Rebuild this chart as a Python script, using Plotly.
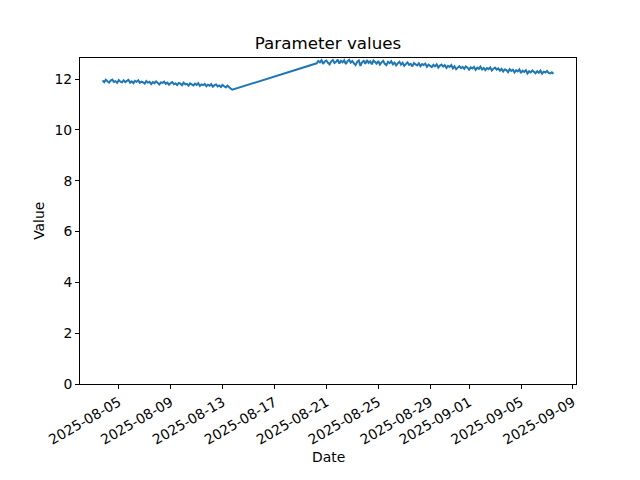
import pandas as pd
import plotly.graph_objects as go

# Segment 1: 3-hourly readings starting 2025-08-03 18:00
seg1_start = "2025-08-03 18:00"
seg1_values = [11.95, 11.88, 11.97, 11.91, 11.86, 11.94, 11.98, 11.89,
               11.92, 11.85, 11.96, 11.90, 11.87, 11.95, 11.88, 11.93,
               11.97, 11.86, 11.91, 11.84, 11.93, 11.89, 11.95, 11.85,
               11.90, 11.87, 11.82, 11.92, 11.86, 11.89, 11.80, 11.88,
               11.84, 11.91, 11.83, 11.79, 11.87, 11.85, 11.90, 11.81,
               11.86, 11.78, 11.84, 11.88, 11.80, 11.83, 11.77, 11.85,
               11.82, 11.76, 11.86, 11.79, 11.81, 11.74, 11.83, 11.78,
               11.75, 11.82, 11.77, 11.84, 11.73, 11.79, 11.76, 11.81,
               11.72, 11.78, 11.74, 11.80, 11.70, 11.76, 11.79, 11.71,
               11.75, 11.69, 11.77, 11.72, 11.67, 11.74, 11.70, 11.63,
               11.58]

# Segment 2: 3-hourly readings starting 2025-08-20 06:00
seg2_start = "2025-08-20 06:00"
seg2_values = [12.62, 12.71, 12.66, 12.74, 12.60, 12.69, 12.73, 12.64,
               12.58, 12.70, 12.75, 12.63, 12.68, 12.77, 12.61, 12.72,
               12.66, 12.74, 12.59, 12.70, 12.76, 12.65, 12.71, 12.62,
               12.55, 12.68, 12.73, 12.52, 12.66, 12.72, 12.60, 12.75,
               12.64, 12.70, 12.58, 12.73, 12.67, 12.61, 12.71, 12.57,
               12.66, 12.72, 12.60, 12.55, 12.68, 12.63, 12.70, 12.58,
               12.65, 12.54, 12.62, 12.68, 12.57, 12.64, 12.52, 12.61,
               12.66, 12.56, 12.60, 12.50, 12.63, 12.58, 12.54, 12.62,
               12.51, 12.59, 12.55, 12.61, 12.48, 12.57, 12.53, 12.47,
               12.56, 12.50, 12.58, 12.45, 12.53, 12.57, 12.49, 12.55,
               12.44, 12.52, 12.48, 12.55, 12.42, 12.50, 12.39, 12.47,
               12.51, 12.43, 12.48, 12.40, 12.50, 12.45, 12.37, 12.46,
               12.42, 12.48, 12.36, 12.45, 12.40, 12.49, 12.38, 12.44,
               12.35, 12.43, 12.39, 12.46, 12.34, 12.41, 12.45, 12.37,
               12.42, 12.33, 12.40, 12.30, 12.38, 12.35, 12.27, 12.39,
               12.32, 12.37, 12.26, 12.35, 12.30, 12.38, 12.24, 12.33,
               12.28, 12.35, 12.22, 12.31, 12.26, 12.34, 12.29, 12.23,
               12.31, 12.25, 12.33, 12.21, 12.29, 12.26, 12.32, 12.24,
               12.22, 12.27, 12.21]

tick_dates = ["2025-08-05", "2025-08-09", "2025-08-13", "2025-08-17", "2025-08-21",
              "2025-08-25", "2025-08-29", "2025-09-01", "2025-09-05", "2025-09-09"]
y_ticks = [0, 2, 4, 6, 8, 10, 12]

t1 = pd.date_range(seg1_start, periods=len(seg1_values), freq="3h")
t2 = pd.date_range(seg2_start, periods=len(seg2_values), freq="3h")
times = list(t1) + list(t2)
values = seg1_values + seg2_values

span = times[-1] - times[0]
x_range = [times[0] - 0.05 * span, times[-1] + 0.05 * span]
vmin, vmax = min(values), max(values)
y_top = vmax + 0.05 * (vmax - vmin)

font = "DejaVu Sans, sans-serif"
fig = go.Figure()
fig.add_trace(go.Scatter(x=times, y=values, mode="lines",
                         line=dict(color="#1f77b4", width=2)))

fig.update_layout(
    width=640, height=480,
    margin=dict(l=80, r=64, t=57.6, b=96),
    plot_bgcolor="white", paper_bgcolor="white",
    showlegend=False,
    font=dict(family=font, size=13.9, color="black"),
    title=dict(text="Parameter values", x=0.5, xref="paper", xanchor="center",
               y=1 - 43 / 480, yref="container", yanchor="middle",
               font=dict(size=16.7, family=font, color="black")),
    annotations=[
        dict(text="Date", x=0.5, xref="paper", y=-0.224, yref="paper",
             showarrow=False, xanchor="center", yanchor="middle",
             font=dict(size=13.9, family=font)),
        dict(text="Value", x=-0.083, xref="paper", y=0.5, yref="paper",
             showarrow=False, textangle=-90, xanchor="center", yanchor="middle",
             font=dict(size=13.9, family=font)),
    ],
)

fig.update_xaxes(range=x_range, tickvals=tick_dates, tickformat="%Y-%m-%d",
                 tickangle=-30, showline=True, linecolor="black", linewidth=1,
                 mirror=True, ticks="outside", ticklen=4, tickcolor="black",
                 showgrid=False, zeroline=False, tickfont=dict(size=13.9))
fig.update_yaxes(range=[0, y_top], tickvals=y_ticks, showline=True, linecolor="black",
                 linewidth=1, mirror=True, ticks="outside", ticklen=4,
                 tickcolor="black", showgrid=False, zeroline=False,
                 tickfont=dict(size=13.9))

fig.write_html("out.html", config={"displayModeBar": False},
               post_script="document.body.style.margin='0';document.body.style.padding='0';")
